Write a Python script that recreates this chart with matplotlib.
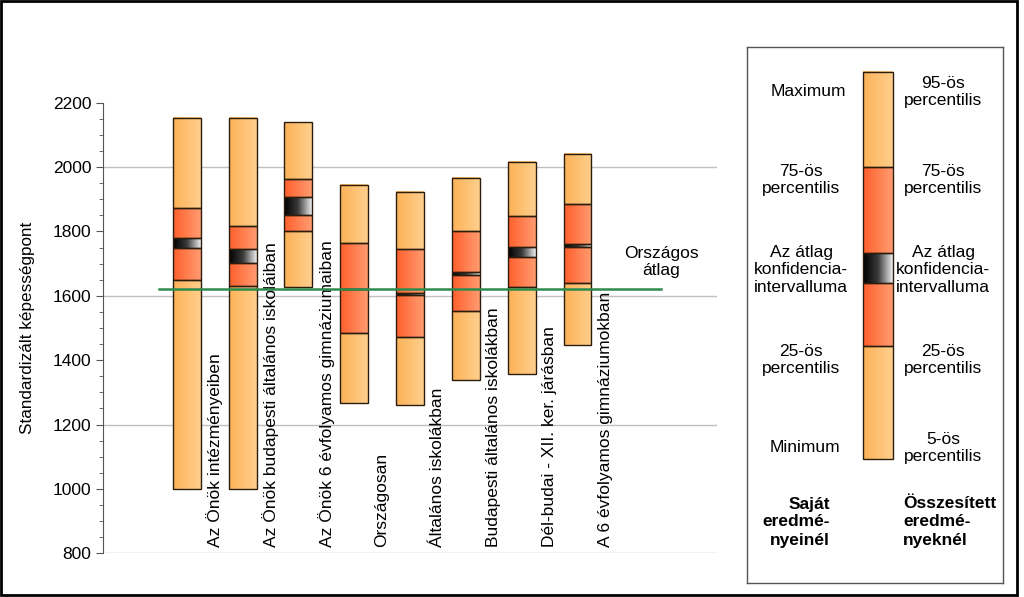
import numpy as np
import matplotlib
matplotlib.use("Agg")
import matplotlib.pyplot as plt
from matplotlib.colors import LinearSegmentedColormap
from matplotlib.patches import Rectangle
from matplotlib.ticker import MultipleLocator

plt.rcParams['font.family'] = ['Liberation Sans', 'DejaVu Sans']

# === ADATOK ===
kategoriak = [
    "Az Önök intézményeiben",
    "Az Önök budapesti általános iskoláiban",
    "Az Önök 6 évfolyamos gimnáziumaiban",
    "Országosan",
    "Általános iskolákban",
    "Budapesti általános iskolákban",
    "Dél-budai - XII. ker. járásban",
    "A 6 évfolyamos gimnáziumokban",
]
also = [1000, 1000, 1627, 1268, 1260, 1339, 1357, 1448]     # minimum / 5-ös percentilis
p25 = [1648, 1630, 1800, 1486, 1471, 1552, 1628, 1640]
ci_also = [1750, 1703, 1851, 1620, 1601, 1666, 1722, 1752]
ci_felso = [1781, 1745, 1908, 1622, 1609, 1673, 1753, 1760]
p75 = [1872, 1816, 1962, 1763, 1745, 1800, 1847, 1884]
felso = [2152, 2152, 2139, 1944, 1923, 1966, 2016, 2040]    # maximum / 95-ös percentilis
orszagos_atlag = 1621

# színátmenetek (balról jobbra)
cm_vilagos = LinearSegmentedColormap.from_list("vil", ["#FDB258", "#FFCF8C"])
cm_piros = LinearSegmentedColormap.from_list("pir", ["#FF5F2C", "#FF9C70"])
cm_ci = LinearSegmentedColormap.from_list("ci", ["#000000", "#3a3a3a", "#EDEDED"])
grad = np.linspace(0, 1, 64).reshape(1, -1)
szegely = "#2b1d0e"


def szegmens(ax, x0, x1, lo, hi, cmap):
    ax.imshow(grad, extent=[x0, x1, lo, hi], cmap=cmap, aspect='auto',
              interpolation='bilinear', zorder=2)
    ax.add_patch(Rectangle((x0, lo), x1 - x0, hi - lo, fill=False,
                           edgecolor=szegely, lw=1, zorder=3))


def doboz(ax, x0, x1, a, b, c, d, e, f):
    szegmens(ax, x0, x1, a, b, cm_vilagos)
    szegmens(ax, x0, x1, b, c, cm_piros)
    szegmens(ax, x0, x1, c, d, cm_ci)
    szegmens(ax, x0, x1, d, e, cm_piros)
    szegmens(ax, x0, x1, e, f, cm_vilagos)


fig = plt.figure(figsize=(10.24, 5.97), dpi=100)
ax = fig.add_axes([103 / 1024, 1 - 553.3 / 597, 614 / 1024, 450.6 / 597])

w = 0.5
for i in range(len(kategoriak)):
    doboz(ax, i - w / 2, i + w / 2, also[i], p25[i], ci_also[i], ci_felso[i], p75[i], felso[i])
    ax.text(i + 0.5, 820, kategoriak[i], rotation=90, ha='center', va='bottom',
            fontsize=12.5, zorder=4)

for g in [800, 1200, 1600, 2000]:
    ax.axhline(g, color='#c0c0c0', lw=1, zorder=1)

ax.plot([-0.5, 8.5], [orszagos_atlag, orszagos_atlag], color='#2e8b4e', lw=1.8, zorder=5)
ax.text(8.5, 1705, "Országos\nátlag", ha='center', va='center', fontsize=12.5,
        linespacing=1.2)

ax.set_xlim(-1.5, 9.5)
ax.set_ylim(800, 2200)
ax.yaxis.set_major_locator(MultipleLocator(200))
ax.yaxis.set_minor_locator(MultipleLocator(50))
ax.tick_params(axis='y', which='major', length=5, labelsize=12.5, color='#555555')
ax.tick_params(axis='y', which='minor', length=3, color='#555555')
ax.set_xticks([])
for s in ['top', 'right', 'bottom']:
    ax.spines[s].set_visible(False)
ax.spines['left'].set_color('#555555')
ax.set_ylabel("Standardizált képességpont", fontsize=12.3)
ax.yaxis.set_label_coords(-0.111, 0.5)

# === JELMAGYARÁZAT ===
lg = fig.add_axes([747.3 / 1024, 1 - 583.3 / 597, 256 / 1024, 536 / 597])
lg.set_xticks([])
lg.set_yticks([])
for s in lg.spines.values():
    s.set_color('#555555')
    s.set_linewidth(1)

# pixelben: alulról felfelé a határok (y lefelé nő)
lg_x0, lg_x1 = 863.3, 893.3
lg_szegmensek = [(459.3, 345.7, cm_vilagos), (345.7, 283.3, cm_piros),
                 (283.3, 253.3, cm_ci), (253.3, 167, cm_piros), (167, 71.7, cm_vilagos)]
for lo, hi, cm in lg_szegmensek:
    lg.imshow(grad, extent=[lg_x0, lg_x1, lo, hi], cmap=cm, aspect='auto',
              interpolation='bilinear', zorder=2)
    lg.add_patch(Rectangle((lg_x0, hi), lg_x1 - lg_x0, lo - hi, fill=False,
                           edgecolor=szegely, lw=1, zorder=3))
lg.set_xlim(747.3, 1003.3)
lg.set_ylim(583.3, 47.3)

bal = ["Maximum", "75-ös\npercentilis", "Az átlag\nkonfidencia-\nintervalluma",
       "25-ös\npercentilis", "Minimum"]
jobb = ["95-ös\npercentilis", "75-ös\npercentilis", "Az átlag\nkonfidencia-\nintervalluma",
        "25-ös\npercentilis", "5-ös\npercentilis"]
bal_x = [808, 801, 801, 801, 805]
bal_y = [91, 180, 270, 360, 447]
jobb_y = [92, 180, 270, 360, 448]
for t, x, y in zip(bal, bal_x, bal_y):
    lg.text(x, y, t, ha='center', va='center', fontsize=12.5, linespacing=1.25)
for t, y in zip(jobb, jobb_y):
    lg.text(943, y, t, ha='center', va='center', fontsize=12.5, linespacing=1.25)
lg.text(830, 522, "Saját\neredmé-\nnyeinél", ha='right', va='center', fontsize=12.5,
        fontweight='bold', linespacing=1.25, multialignment='right')
lg.text(903, 522, "Összesített\neredmé-\nnyeknél", ha='left', va='center', fontsize=12.5,
        fontweight='bold', linespacing=1.25)

# külső keret
fig.add_artist(Rectangle((1 / 1024, 2 / 597), 1016 / 1024, 594 / 597, fill=False,
                         edgecolor='black', lw=2, transform=fig.transFigure))

fig.savefig("out.png", dpi=100)
